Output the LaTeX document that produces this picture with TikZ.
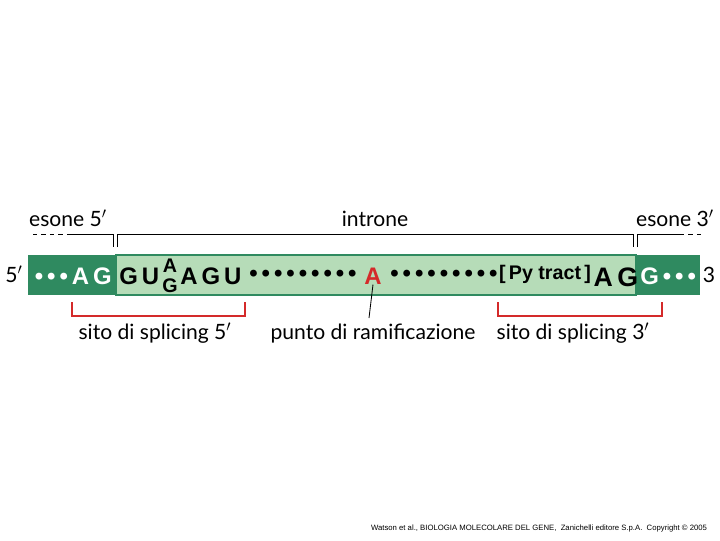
\documentclass[tikz,border=0pt]{standalone}
\usepackage{fontspec}
\setmainfont{Lato}
\setsansfont{Liberation Sans}
\usetikzlibrary{positioning}
\definecolor{exon}{HTML}{2F8A60}
\definecolor{intron}{HTML}{B6DCB8}
\definecolor{site}{HTML}{D42A2A}
\tikzset{
    % sequence letters
    base/.style={font=\sffamily\bfseries\fontsize{17}{17}\selectfont, inner sep=0pt},
    label text/.style={font=\fontsize{15}{15}\selectfont, inner sep=1pt, anchor=base},
    bracket/.style={line width=0.6pt, black},
    site bracket/.style={line width=1.2pt, color=site}
}
\begin{document}
\begin{tikzpicture}[x=0.025cm, y=-0.025cm]
    \useasboundingbox (0,0) rectangle (720,540);
    % Bar
    \fill[intron, draw=exon, line width=0.8pt] (116,255) rectangle (636,295);
    \fill[exon] (28,255) rectangle (116,295);
    \fill[exon] (636,255) rectangle (700,295);

    % Top labels and brackets
    \node[label text] (ex5) at (68,226) {esone 5$'$};
    \node[label text] (intr) at (375,226) {introne};
    \node[label text] (ex3) at (675,226) {esone 3$'$};
    \draw[bracket, dashed] (33,234) -- (70,234);
    \draw[bracket] (70,234) -| (113,247);
    \draw[bracket] (117,247) |- (633,234) -- (633,247);
    \draw[bracket] (637,247) |- (680,234);
    \draw[bracket, dashed] (680,234) -- (705,234);

    % Sequence
    \node[label text] (end5) at (14,282) {5$'$};
    \node[label text] (end3) at (709,282) {3};
    \node[base, text=white, anchor=east] (ag5) at (112,276) {\textbullet\,\textbullet\,\textbullet\,A\,G};
    \node[base, anchor=west] (gu) at (119,276) {G\,U};
    \node[base, font=\sffamily\bfseries\fontsize{14}{14}\selectfont] (ra) at (170,266) {A};
    \node[base, font=\sffamily\bfseries\fontsize{14}{14}\selectfont] (rg) at (170,286) {G};
    \node[base, anchor=west] (agu) at (180,276) {A\,G\,U};
    \node[base] (dots1) at (303,276) {\textbullet\,\textbullet\,\textbullet\,\textbullet\,\textbullet\,\textbullet\,\textbullet\,\textbullet\,\textbullet};
    \node[base, text=site] (branch) at (373,276) {A};
    \node[base] (dots2) at (444,276) {\textbullet\,\textbullet\,\textbullet\,\textbullet\,\textbullet\,\textbullet\,\textbullet\,\textbullet\,\textbullet};
    \node[base, font=\sffamily\bfseries\fontsize{14}{14}\selectfont] (py) at (545,274) {[\,Py tract\,]};
    \node[base, font=\sffamily\bfseries\fontsize{19}{19}\selectfont] (ag3) at (616,277) {A\,G};
    \node[base, text=white, anchor=west] (g3) at (640,276) {G\,\textbullet\,\textbullet\,\textbullet};

    % Splice sites
    \draw[site bracket] (72,302) |- (245,316) -- (245,302);
    \draw[site bracket] (498,302) |- (662,316) -- (662,302);
    \node[label text] (site5) at (155,339) {sito di splicing 5$'$};
    \node[label text] (bpt) at (373,339) {punto di ramificazione};
    \node[label text] (site3) at (573,339) {sito di splicing 3$'$};
    \coordinate (tail) at (369,318);
    \draw[line width=0.6pt] (branch.south) -- (tail);

    % Footer
    \node[font=\sffamily\fontsize{5.5}{6}\selectfont, anchor=east] (credit) at (712,528) {Watson et al., BIOLOGIA MOLECOLARE DEL GENE, \ Zanichelli editore S.p.A. \ Copyright \textcopyright\ 2005};
\end{tikzpicture}
\end{document}
